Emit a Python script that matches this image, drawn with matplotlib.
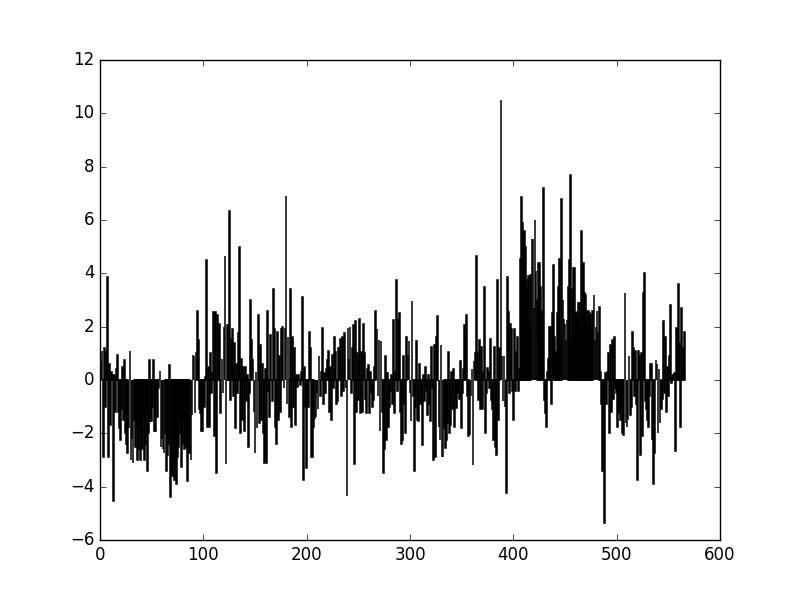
import matplotlib
matplotlib.use("Agg")
import matplotlib.pyplot as plt
import numpy as np

plt.style.use("classic")

# values, 567 bars, index 0..566
vals_000 = [
    -1.6, 0.7, 1.1, -2.9, 1.2, -1.0, 1.1, 3.85, -2.9, 0.6,
    -1.7, 0.3, 0.2, -4.55, 0.2, -1.2, 0.4, 0.95, -1.2, -1.8,
    -2.25, -1.1, 0.5, -1.5, 0.75, -2.0, -2.4, -2.75, -1.8, 1.1,
    -3.0, -2.2, -3.1, -1.5, -2.5, -1.8, -3.0, -2.6, -1.5, -3.0,
    -2.0, -2.6, -1.3, -3.0, -2.4, -1.0, -3.4, -2.0, 0.75, -1.55,
    -1.55, -1.0, 0.75, -1.9, -1.9, -0.6, -1.4, -0.3, 0.35, -2.5,
    -2.2, -2.6, -2.75, -2.0, -3.4, -2.8, -2.4, 0.55, -4.4, -3.5,
    -3.6, -3.0, -3.75, -2.9, -3.9, -2.9, -2.5, -1.4, -2.0, -3.25,
    -2.4, -1.5, -2.6, -2.0, -2.5, -3.8, -2.0, -2.75, -3.0, -1.3,
    0.95, 0.9, -1.25, 1.0, 2.6, 1.5, -1.1, -1.25, -1.9, -1.9,
]
vals_100 = [
    -0.75, -1.0, 0.1, 4.5, -1.75, 0.5, -1.75, 1.0, -0.5, 0.25,
    2.55, -2.1, 2.55, -3.5, 2.45, 1.8, 2.1, -1.25, 0.8, -0.5,
    2.0, 4.65, -3.15, 2.05, 1.5, 6.35, -0.75, 1.55, 1.9, -0.6,
    1.4, -1.8, 0.6, -0.5, 1.75, 5.0, -2.0, 0.8, -1.5, 0.5,
    -1.9, 0.5, -0.8, 0.2, -2.5, -0.5, 3.0, 1.5, 0.8, -1.2,
    -2.75, 0.3, -1.8, 2.45, -1.6, 1.3, -1.5, 0.6, -2.0, -3.1,
    0.4, -3.1, 2.6, -0.4, -1.4, 1.7, 0.0, -0.8, 3.4, 1.9,
    -1.75, -2.4, 1.8, -1.5, 0.9, -1.2, 1.9, 2.0, -0.3, 1.95,
    6.9, -0.9, 1.6, -1.4, 3.4, -1.75, 1.6, -1.0, 1.2, -1.7,
    0.2, -0.25, 0.2, 0.0, -0.2, 0.3, 3.1, -3.75, 0.5, -1.0,
]
vals_200 = [
    -3.3, -0.75, -1.0, 1.8, 1.2, -2.9, -2.9, -1.75, -1.45, -1.4,
    -0.5, -1.1, 0.9, -0.6, 0.3, 1.95, -0.9, 0.25, -0.5, 0.4,
    0.75, 1.1, -1.2, 0.5, -1.5, 0.95, -0.3, 1.6, 1.05, -0.9,
    -0.8, 1.2, 0.5, 1.55, -0.6, 1.6, -0.4, 1.75, -0.3, -4.35,
    1.95, 0.8, 2.0, -0.5, 1.2, 2.05, -3.15, 2.2, -1.2, 1.0,
    -0.75, 2.3, -1.25, 1.05, -1.2, 2.1, 1.0, -0.7, -1.25, 0.4,
    0.55, -1.25, 0.3, -0.5, -1.0, -0.75, 0.5, 2.6, 1.9, -0.6,
    1.5, -1.9, 1.45, -1.2, -3.5, -2.6, 0.9, -2.25, 0.25, -1.75,
    -1.0, -0.4, 0.2, -0.9, 2.25, -1.25, 0.3, 3.75, -0.4, 2.25,
    2.5, -1.2, -2.4, -2.25, 0.9, -0.9, -2.0, 1.6, 0.95, 1.45,
]
vals_300 = [
    -0.5, -1.55, 2.95, -0.6, -3.4, -1.0, 1.45, -1.5, -1.55, 0.6,
    -0.9, -0.5, -2.45, 0.2, -0.8, 0.5, -0.4, -1.3, 0.2, -0.9,
    -1.55, 1.25, -0.3, -3.0, 1.3, -2.9, 1.6, 2.4, -1.75, -2.25,
    1.3, -2.9, -2.9, -1.8, -2.55, -2.25, -1.6, 1.05, -2.0, -1.7,
    0.3, -1.1, 0.4, -1.75, -0.6, -1.05, -0.5, -0.25, -0.7, 0.7,
    -1.8, -0.5, 0.4, 2.05, 1.7, 2.45, -0.6, -2.1, -2.05, -0.6,
    0.4, -3.2, 0.7, 1.0, 4.65, 1.05, -0.75, 1.5, -1.1, 1.25,
    -1.1, 0.3, 3.5, -2.0, -0.5, 0.45, 0.3, -0.3, 1.55, -0.75,
    -1.1, -2.25, 1.25, -2.5, -2.8, 3.75, -1.5, 1.2, 10.5, 0.9,
    -0.8, 0.9, -1.0, -4.25, 3.85, 2.55, -0.5, 2.1, 1.9, -0.4,
]
vals_400 = [
    -1.5, 1.9, -0.4, 1.05, 1.6, -0.4, 0.4, 4.55, 6.85, 5.9,
    5.55, 5.6, 5.0, 3.75, 3.4, 3.9, 2.0, 3.95, 5.3, 5.3,
    2.7, 6.0, 4.1, 3.0, 4.4, 4.4, 3.5, 2.6, 1.5, 7.2,
    -0.75, -1.25, -1.75, 0.3, 0.8, 2.0, 2.0, -0.9, 2.5, 4.3,
    1.6, 1.05, 1.0, 2.5, 3.5, 4.55, 1.5, 6.8, 3.0, 2.3,
    2.1, 1.5, 2.25, 3.5, 4.5, 7.7, 1.4, 3.4, 4.2, 4.2,
    2.55, 2.5, 2.4, 2.9, 2.9, 2.0, 5.6, 2.6, 4.4, 3.25,
    3.2, 2.6, 2.1, 2.6, 2.5, 2.45, 1.95, 2.6, 3.2, 1.5,
    2.0, 2.6, 1.8, 2.75, 0.3, -0.9, -3.4, -1.1, -5.35, 0.25,
    -0.9, 0.3, 1.0, -2.0, 1.3, -1.2, 1.5, -0.7, 1.6, -0.3,
]
vals_500 = [
    -0.5, -1.75, -1.25, -0.9, -1.5, -1.0, -2.0, -2.05, 3.25, -1.6,
    -1.75, -1.5, 0.9, -1.3, -1.0, 1.8, 1.2, -0.6, 1.1, -0.9,
    -3.75, 1.1, 0.9, -2.8, 1.0, -2.1, 3.25, 4.0, -0.8, -1.1,
    -1.5, -1.75, -0.6, 0.6, 0.6, -2.2, -3.9, -2.75, 0.75, 0.6,
    -2.0, 0.4, -1.6, -1.1, -0.7, 2.2, -0.5, 1.6, -1.2, 0.5,
    -0.6, 0.9, 2.8, -0.1, 0.2, 0.2, 0.25, -2.65, 1.95, 1.9,
    3.6, 1.4, -1.75, 2.7, 0.4, 1.2, 1.8,
]

values = vals_000 + vals_100 + vals_200 + vals_300 + vals_400 + vals_500
x = np.arange(len(values))

fig, ax = plt.subplots(figsize=(8, 6), dpi=100)
ax.bar(x, values, width=0.8, color="k", linewidth=1.1)

ax.set_xlim(0, 600)
ax.set_ylim(-6, 12)

fig.savefig("out.png", dpi=100)
